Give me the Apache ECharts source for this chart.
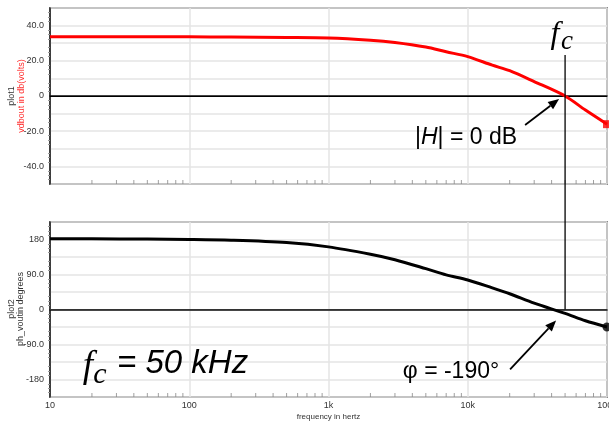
<!DOCTYPE html>
<html><head><meta charset="utf-8">
<script src="https://cdn.jsdelivr.net/npm/echarts@6/dist/echarts.min.js"></script>
<style>html,body{margin:0;padding:0;background:#fff}#c{width:609px;height:423px}</style>
</head><body><div id="c"></div>
<script>
// ---- data ----
const freqHz   = [10, 20, 50, 100, 200, 500, 1000, 2000, 3000, 5000, 7000, 10000, 15000, 20000, 30000, 50000, 70000, 100000];
const magDb    = [33.6, 33.6, 33.6, 33.6, 33.5, 33.3, 33.0, 31.7, 30.4, 27.8, 25.1, 22.4, 17.5, 14.4, 8.2, 0.0, -8.0, -16.0];
const phaseDeg = [181.8, 181.8, 181.0, 180.0, 178.0, 172.0, 161.0, 142.0, 128.0, 105.0, 89.0, 76.0, 55.5, 40.5, 16.3, -10.0, -29.0, -45.0];
const xTickValues = [10, 100, 1000, 10000, 100000];
const xTickText   = ['10', '100', '1k', '10k', '100k'];
const magTickValues = [40, 20, 0, -20, -40];
const magTickText   = ['40.0', '20.0', '0', '-20.0', '-40.0'];
const phTickValues  = [180, 90, 0, -90, -180];
const phTickText    = ['180', '90.0', '0', '-90.0', '-180'];
const fcHz = 50000;

const minorFreqs = [];
for (let d = 10; d < 100000; d *= 10) for (let m = 2; m <= 9; m++) minorFreqs.push(d * m);

const magPts = freqHz.map((f, i) => [f, magDb[i]]);
const phPts = freqHz.map((f, i) => [f, phaseDeg[i]]);
const last = freqHz.length - 1;

function fmt(values, texts) {
  return v => { const i = values.indexOf(Math.round(v)); return i >= 0 ? texts[i] : ''; };
}
const FONT = 'Liberation Sans';
function xAx(gi, showLabels) {
  return {
    type: 'log', logBase: 10, min: 10, max: 100000, gridIndex: gi,
    axisLine: { show: true, lineStyle: { color: '#111', width: 1.5 } },
    axisTick: { show: false },
    axisLabel: { show: showLabels, fontFamily: FONT, fontSize: 9, color: '#333', margin: 4,
      formatter: fmt(xTickValues, xTickText) },
    splitLine: { show: true, lineStyle: { color: '#e4e4e4', width: 1.5 } },
    name: showLabels ? 'frequency in hertz' : '', nameLocation: 'middle', nameGap: 16,
    nameTextStyle: { fontFamily: FONT, fontSize: 8, color: '#333' }
  };
}
function yAx(gi, min, max, interval, values, texts) {
  return {
    type: 'value', min, max, interval, gridIndex: gi,
    axisLine: { show: true, lineStyle: { color: '#111', width: 1.5 } },
    axisTick: { show: false },
    minorTick: { show: true, splitNumber: 4, length: 2, lineStyle: { color: '#999' } },
    axisLabel: { fontFamily: FONT, fontSize: 9, color: '#333', margin: 6, formatter: fmt(values, texts) },
    splitLine: { show: true, lineStyle: { color: '#e4e4e4', width: 1.5 } }
  };
}
function zeroLine(color) {
  return { silent: true, symbol: 'none', label: { show: false }, lineStyle: { color, width: 1, type: 'solid' },
    data: [{ yAxis: 0 }], animation: false };
}
function minorTicks(gi, yMin) {
  return { type: 'scatter', xAxisIndex: gi, yAxisIndex: gi, symbol: 'rect', symbolSize: [1, 4],
    symbolOffset: [0, -2], itemStyle: { color: '#888' }, silent: true, z: 1,
    data: minorFreqs.map(f => [f, yMin]) };
}

const option = {
  animation: false,
  backgroundColor: '#fff',
  grid: [
    { left: 50, top: 8, right: 2, height: 176, show: true, borderColor: '#333', borderWidth: 1.5, outerBoundsMode: 'none', containLabel: false },
    { left: 50, top: 222, right: 2, height: 175, show: true, borderColor: '#333', borderWidth: 1.5, outerBoundsMode: 'none', containLabel: false }
  ],
  xAxis: [xAx(0, false), xAx(1, true)],
  yAxis: [yAx(0, -50, 50, 10, magTickValues, magTickText), yAx(1, -225, 225, 45, phTickValues, phTickText)],
  series: [
    { type: 'line', xAxisIndex: 0, yAxisIndex: 0, data: magPts, showSymbol: false, smooth: 0.3,
      lineStyle: { color: '#ff0000', width: 3 }, z: 5, markLine: zeroLine('#000') },
    { type: 'line', xAxisIndex: 1, yAxisIndex: 1, data: phPts, showSymbol: false, smooth: 0.3,
      lineStyle: { color: '#000', width: 3 }, z: 5, markLine: zeroLine('#333') },
    { type: 'scatter', xAxisIndex: 0, yAxisIndex: 0, data: [magPts[last]], symbol: 'rect', symbolSize: 8,
      itemStyle: { color: '#ff0000' }, z: 6, clip: false },
    { type: 'scatter', xAxisIndex: 1, yAxisIndex: 1, data: [phPts[last]], symbol: 'circle', symbolSize: 9,
      itemStyle: { color: '#000' }, z: 6, clip: false },
    minorTicks(0, -50), minorTicks(1, -225)
  ]
};

const chart = echarts.init(document.getElementById('c'), null, { renderer: 'canvas' });
chart.setOption(option);

const pTop = chart.convertToPixel({ gridIndex: 0 }, [fcHz, 0]);
const pBot = chart.convertToPixel({ gridIndex: 1 }, [fcHz, 0]);
const pPh = chart.convertToPixel({ gridIndex: 1 }, [fcHz, phaseDeg[freqHz.indexOf(fcHz)]]);

function arrow(x1, y1, x2, y2) {
  const a = Math.atan2(y2 - y1, x2 - x1), L = 11, W = 4.5;
  const bx = x2 - L * Math.cos(a), by = y2 - L * Math.sin(a);
  const nx = -Math.sin(a) * W, ny = Math.cos(a) * W;
  return [
    { type: 'line', shape: { x1, y1, x2: bx, y2: by }, style: { stroke: '#000', lineWidth: 1.8 } },
    { type: 'polygon', shape: { points: [[x2, y2], [bx + nx, by + ny], [bx - nx, by - ny]] }, style: { fill: '#000' } }
  ];
}
chart.setOption({
  graphic: [
    { type: 'line', shape: { x1: pTop[0], y1: 55, x2: pTop[0], y2: pBot[1] }, style: { stroke: '#000', lineWidth: 1.3 }, z: 10 },
    ...arrow(pTop[0] - 40, pTop[1] + 29, pTop[0] - 6, pTop[1] + 3),
    ...arrow(pPh[0] - 55, pPh[1] + 56, pPh[0] - 9, pPh[1] + 7),
    { type: 'text', x: 466, y: 138, style: { text: '{n||}{i|H}{n|| = 0 dB}', textAlign: 'center', textVerticalAlign: 'middle',
      rich: { n: { fontFamily: FONT, fontSize: 23, fill: '#000' }, i: { fontFamily: FONT, fontStyle: 'italic', fontSize: 23, fill: '#000' } } } },
    { type: 'text', x: 451, y: 372, style: { text: 'φ = -190°', font: '23px "Liberation Sans"', fill: '#000', textAlign: 'center', textVerticalAlign: 'middle' } },
    // f_c label at the top
    { type: 'text', x: 555, y: 35, style: { text: 'f', font: 'italic 32px "Liberation Serif"', fill: '#000', textAlign: 'center', textVerticalAlign: 'middle' } },
    { type: 'text', x: 567, y: 42, style: { text: 'c', font: 'italic 27px "Liberation Serif"', fill: '#000', textAlign: 'center', textVerticalAlign: 'middle' } },
    // big f_c = 50 kHz
    { type: 'text', x: 88, y: 367, style: { text: 'f', font: 'italic 37px "Liberation Serif"', fill: '#000', textAlign: 'center', textVerticalAlign: 'middle' } },
    { type: 'text', x: 100, y: 375, style: { text: 'c', font: 'italic 30px "Liberation Serif"', fill: '#000', textAlign: 'center', textVerticalAlign: 'middle' } },
    { type: 'text', x: 117, y: 364, style: { text: '= 50 kHz', font: 'italic 33px "Liberation Sans"', fill: '#000', textAlign: 'left', textVerticalAlign: 'middle' } },
    // y-axis titles
    { type: 'text', x: 16.5, y: 96, rotation: Math.PI / 2,
      style: { text: '{a|plot1}\n{b|vdbout in db(volts)}', textAlign: 'center', textVerticalAlign: 'middle',
        rich: { a: { fontFamily: FONT, fontSize: 9, fill: '#333', lineHeight: 9.5 }, b: { fontFamily: FONT, fontSize: 9, fill: '#ff3030', lineHeight: 9.5 } } } },
    { type: 'text', x: 16, y: 309, rotation: Math.PI / 2,
      style: { text: '{a|plot2}\n{b|ph_voutin degrees}', textAlign: 'center', textVerticalAlign: 'middle',
        rich: { a: { fontFamily: FONT, fontSize: 9, fill: '#333', lineHeight: 9.5 }, b: { fontFamily: FONT, fontSize: 9, fill: '#333', lineHeight: 9.5 } } } }
  ]
});
</script></body></html>
